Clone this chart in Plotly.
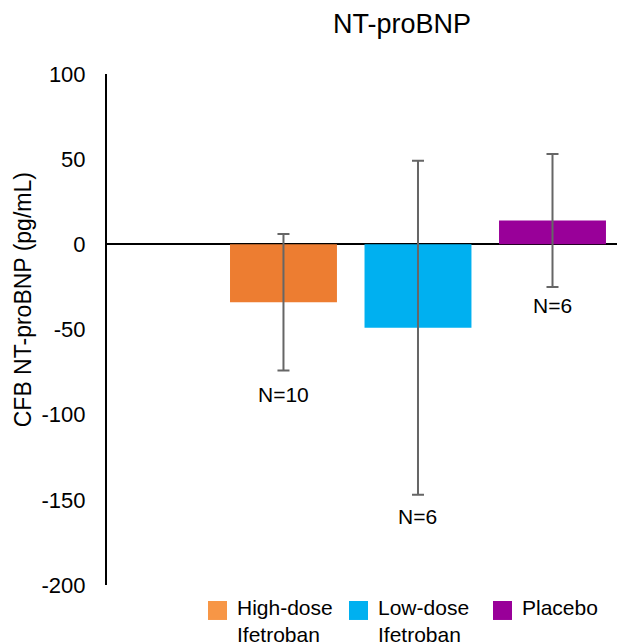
import plotly.graph_objects as go

categories = ["High-dose Ifetroban", "Low-dose Ifetroban", "Placebo"]
legend_labels = ["High-dose<br>Ifetroban", "Low-dose<br>Ifetroban", "Placebo"]
values = [-34, -49, 14]
errors = [40, 98, 39]
n_labels = ["N=10", "N=6", "N=6"]
n_label_y = [-88, -160, -36]
bar_colors = ["#ED7D31", "#00B0F0", "#990099"]
legend_colors = ["#F79646", "#00B0F0", "#990099"]
y_ticks = [-200, -150, -100, -50, 0, 50, 100]
y_tick_text = ["-200", "-150", "-100", "-50", "0", "50", "100"]

fig = go.Figure()
fig.add_trace(go.Bar(
    x=list(range(len(categories))), y=values,
    marker=dict(color=bar_colors, line=dict(width=0)),
    width=0.795,
    error_y=dict(type="data", array=errors, visible=True, color="#666666", thickness=2, width=6),
    showlegend=False,
))

for i, (lab, ly) in enumerate(zip(n_labels, n_label_y)):
    fig.add_annotation(x=i, y=ly, text=lab, showarrow=False, xref="x", yref="y",
                       font=dict(size=21, color="#000000"))

# page offset (browser body margin) = 8px; positions below in window pixels
OFF = 8
L, W, T, H = 107, 518, 73.5, 511.5
def px(x): return (x - L) / W
def py(y): return (T + H - y) / H
legend_x = [208, 349, 493]
for lx, lab, col in zip(legend_x, legend_labels, legend_colors):
    fig.add_shape(type="rect", xref="paper", yref="paper",
                  x0=px(lx), x1=px(lx + 19), y0=py(620), y1=py(601),
                  fillcolor=col, line=dict(width=0))
    fig.add_annotation(xref="paper", yref="paper", x=px(lx + 27), y=py(594),
                       text=lab, showarrow=False, xanchor="left", yanchor="top",
                       align="left", font=dict(size=21, color="#000000"))

# y-axis title
fig.add_annotation(xref="paper", yref="paper", x=px(23), y=py(300),
                   text="CFB NT-proBNP (pg/mL)", textangle=-90, showarrow=False,
                   xanchor="center", yanchor="middle",
                   font=dict(size=23, color="#000000"))

FW, FH = 625 - OFF, 644 - OFF
fig.update_layout(
    width=FW, height=FH,
    margin=dict(l=L - OFF, r=FW - (L - OFF) - W, t=T - OFF, b=FH - (T - OFF) - H),
    paper_bgcolor="white", plot_bgcolor="white",
    font=dict(family="Liberation Sans, Arial, sans-serif", color="#000000"),
    title=dict(text="NT-proBNP", x=px(402), xref="paper", xanchor="center",
               y=1 - (24 - OFF) / FH, yanchor="middle",
               font=dict(size=27, color="#000000")),
    xaxis=dict(range=[-1.312, 2.539], showticklabels=False, showgrid=False,
               zeroline=False, showline=False, ticks=""),
    yaxis=dict(range=[-200, 100], tickvals=y_ticks, ticktext=y_tick_text,
               showgrid=False, zeroline=True, zerolinecolor="#000000", zerolinewidth=2,
               showline=True, linecolor="#000000", linewidth=2, ticks="",
               ticklabelstandoff=15, tickfont=dict(size=22, color="#000000"),
               automargin=False),
)

fig.write_html("out.html")
